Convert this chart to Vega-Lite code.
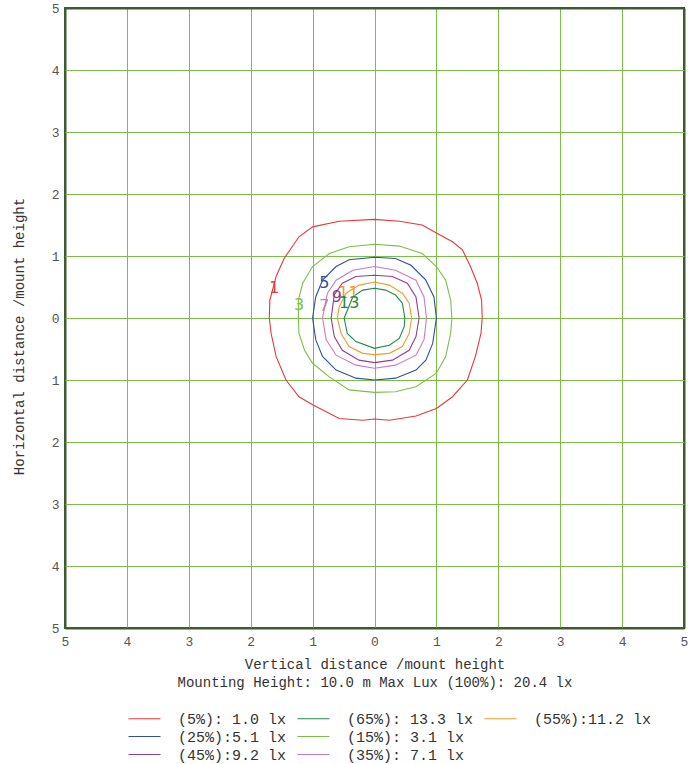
{
  "$schema": "https://vega.github.io/schema/vega-lite/v6.json",
  "autosize": {"type": "none"},
  "width": 619,
  "height": 620,
  "padding": {"left": 65, "top": 8, "right": 10, "bottom": 136},
  "background": "white",
  "config": {
    "view": {"stroke": "#3f5a30", "strokeWidth": 2},
    "axis": {"labelFont": "Liberation Mono", "titleFont": "Liberation Mono", "labelColor": "#555555", "titleColor": "#333333", "titleFontWeight": "normal", "labelFontSize": 13, "titleFontSize": 14}
  },
  "datasets": {
    "contours": [
      {"s": "(5%): 1.0 lx", "i": 0, "x": 0, "y": 1.59},
      {"s": "(5%): 1.0 lx", "i": 1, "x": 0.4, "y": 1.56},
      {"s": "(5%): 1.0 lx", "i": 2, "x": 0.77, "y": 1.5},
      {"s": "(5%): 1.0 lx", "i": 3, "x": 1.0, "y": 1.37},
      {"s": "(5%): 1.0 lx", "i": 4, "x": 1.26, "y": 1.23},
      {"s": "(5%): 1.0 lx", "i": 5, "x": 1.42, "y": 1.1},
      {"s": "(5%): 1.0 lx", "i": 6, "x": 1.55, "y": 0.83},
      {"s": "(5%): 1.0 lx", "i": 7, "x": 1.66, "y": 0.56},
      {"s": "(5%): 1.0 lx", "i": 8, "x": 1.73, "y": 0.29},
      {"s": "(5%): 1.0 lx", "i": 9, "x": 1.74, "y": 0},
      {"s": "(5%): 1.0 lx", "i": 10, "x": 1.72, "y": -0.25},
      {"s": "(5%): 1.0 lx", "i": 11, "x": 1.63, "y": -0.62},
      {"s": "(5%): 1.0 lx", "i": 12, "x": 1.5, "y": -1.0},
      {"s": "(5%): 1.0 lx", "i": 13, "x": 1.26, "y": -1.27},
      {"s": "(5%): 1.0 lx", "i": 14, "x": 1.0, "y": -1.46},
      {"s": "(5%): 1.0 lx", "i": 15, "x": 0.67, "y": -1.58},
      {"s": "(5%): 1.0 lx", "i": 16, "x": 0.24, "y": -1.65},
      {"s": "(5%): 1.0 lx", "i": 17, "x": 0, "y": -1.63},
      {"s": "(5%): 1.0 lx", "i": 18, "x": -0.19, "y": -1.65},
      {"s": "(5%): 1.0 lx", "i": 19, "x": -0.57, "y": -1.62},
      {"s": "(5%): 1.0 lx", "i": 20, "x": -1.0, "y": -1.4},
      {"s": "(5%): 1.0 lx", "i": 21, "x": -1.22, "y": -1.27},
      {"s": "(5%): 1.0 lx", "i": 22, "x": -1.43, "y": -1.0},
      {"s": "(5%): 1.0 lx", "i": 23, "x": -1.59, "y": -0.62},
      {"s": "(5%): 1.0 lx", "i": 24, "x": -1.67, "y": -0.25},
      {"s": "(5%): 1.0 lx", "i": 25, "x": -1.7, "y": 0},
      {"s": "(5%): 1.0 lx", "i": 26, "x": -1.69, "y": 0.29},
      {"s": "(5%): 1.0 lx", "i": 27, "x": -1.59, "y": 0.67},
      {"s": "(5%): 1.0 lx", "i": 28, "x": -1.46, "y": 0.96},
      {"s": "(5%): 1.0 lx", "i": 29, "x": -1.22, "y": 1.31},
      {"s": "(5%): 1.0 lx", "i": 30, "x": -1.0, "y": 1.47},
      {"s": "(5%): 1.0 lx", "i": 31, "x": -0.57, "y": 1.56},
      {"s": "(5%): 1.0 lx", "i": 32, "x": 0, "y": 1.59},

      {"s": "(15%): 3.1 lx", "i": 0, "x": 0, "y": 1.19},
      {"s": "(15%): 3.1 lx", "i": 1, "x": 0.4, "y": 1.16},
      {"s": "(15%): 3.1 lx", "i": 2, "x": 0.77, "y": 1.04},
      {"s": "(15%): 3.1 lx", "i": 3, "x": 1.0, "y": 0.83},
      {"s": "(15%): 3.1 lx", "i": 4, "x": 1.15, "y": 0.61},
      {"s": "(15%): 3.1 lx", "i": 5, "x": 1.23, "y": 0.29},
      {"s": "(15%): 3.1 lx", "i": 6, "x": 1.25, "y": 0},
      {"s": "(15%): 3.1 lx", "i": 7, "x": 1.23, "y": -0.25},
      {"s": "(15%): 3.1 lx", "i": 8, "x": 1.15, "y": -0.62},
      {"s": "(15%): 3.1 lx", "i": 9, "x": 1.0, "y": -0.89},
      {"s": "(15%): 3.1 lx", "i": 10, "x": 0.67, "y": -1.11},
      {"s": "(15%): 3.1 lx", "i": 11, "x": 0.34, "y": -1.19},
      {"s": "(15%): 3.1 lx", "i": 12, "x": 0, "y": -1.2},
      {"s": "(15%): 3.1 lx", "i": 13, "x": -0.41, "y": -1.16},
      {"s": "(15%): 3.1 lx", "i": 14, "x": -0.73, "y": -0.95},
      {"s": "(15%): 3.1 lx", "i": 15, "x": -1.0, "y": -0.73},
      {"s": "(15%): 3.1 lx", "i": 16, "x": -1.13, "y": -0.52},
      {"s": "(15%): 3.1 lx", "i": 17, "x": -1.22, "y": -0.25},
      {"s": "(15%): 3.1 lx", "i": 18, "x": -1.23, "y": 0},
      {"s": "(15%): 3.1 lx", "i": 19, "x": -1.23, "y": 0.29},
      {"s": "(15%): 3.1 lx", "i": 20, "x": -1.16, "y": 0.56},
      {"s": "(15%): 3.1 lx", "i": 21, "x": -1.0, "y": 0.83},
      {"s": "(15%): 3.1 lx", "i": 22, "x": -0.73, "y": 1.04},
      {"s": "(15%): 3.1 lx", "i": 23, "x": -0.41, "y": 1.15},
      {"s": "(15%): 3.1 lx", "i": 24, "x": 0, "y": 1.19},

      {"s": "(25%):5.1 lx", "i": 0, "x": 0, "y": 0.98},
      {"s": "(25%):5.1 lx", "i": 1, "x": 0.34, "y": 0.96},
      {"s": "(25%):5.1 lx", "i": 2, "x": 0.59, "y": 0.85},
      {"s": "(25%):5.1 lx", "i": 3, "x": 0.83, "y": 0.61},
      {"s": "(25%):5.1 lx", "i": 4, "x": 0.96, "y": 0.34},
      {"s": "(25%):5.1 lx", "i": 5, "x": 1.0, "y": 0},
      {"s": "(25%):5.1 lx", "i": 6, "x": 0.94, "y": -0.41},
      {"s": "(25%):5.1 lx", "i": 7, "x": 0.83, "y": -0.68},
      {"s": "(25%):5.1 lx", "i": 8, "x": 0.67, "y": -0.84},
      {"s": "(25%):5.1 lx", "i": 9, "x": 0.34, "y": -0.97},
      {"s": "(25%):5.1 lx", "i": 10, "x": 0, "y": -1.0},
      {"s": "(25%):5.1 lx", "i": 11, "x": -0.3, "y": -0.97},
      {"s": "(25%):5.1 lx", "i": 12, "x": -0.62, "y": -0.84},
      {"s": "(25%):5.1 lx", "i": 13, "x": -0.84, "y": -0.62},
      {"s": "(25%):5.1 lx", "i": 14, "x": -0.95, "y": -0.35},
      {"s": "(25%):5.1 lx", "i": 15, "x": -1.0, "y": 0},
      {"s": "(25%):5.1 lx", "i": 16, "x": -0.95, "y": 0.34},
      {"s": "(25%):5.1 lx", "i": 17, "x": -0.84, "y": 0.61},
      {"s": "(25%):5.1 lx", "i": 18, "x": -0.62, "y": 0.83},
      {"s": "(25%):5.1 lx", "i": 19, "x": -0.41, "y": 0.94},
      {"s": "(25%):5.1 lx", "i": 20, "x": 0, "y": 0.98},

      {"s": "(35%): 7.1 lx", "i": 0, "x": 0, "y": 0.83},
      {"s": "(35%): 7.1 lx", "i": 1, "x": 0.34, "y": 0.77},
      {"s": "(35%): 7.1 lx", "i": 2, "x": 0.67, "y": 0.61},
      {"s": "(35%): 7.1 lx", "i": 3, "x": 0.8, "y": 0.34},
      {"s": "(35%): 7.1 lx", "i": 4, "x": 0.84, "y": 0},
      {"s": "(35%): 7.1 lx", "i": 5, "x": 0.8, "y": -0.35},
      {"s": "(35%): 7.1 lx", "i": 6, "x": 0.67, "y": -0.6},
      {"s": "(35%): 7.1 lx", "i": 7, "x": 0.34, "y": -0.76},
      {"s": "(35%): 7.1 lx", "i": 8, "x": 0, "y": -0.81},
      {"s": "(35%): 7.1 lx", "i": 9, "x": -0.3, "y": -0.76},
      {"s": "(35%): 7.1 lx", "i": 10, "x": -0.62, "y": -0.6},
      {"s": "(35%): 7.1 lx", "i": 11, "x": -0.78, "y": -0.35},
      {"s": "(35%): 7.1 lx", "i": 12, "x": -0.84, "y": 0},
      {"s": "(35%): 7.1 lx", "i": 13, "x": -0.76, "y": 0.4},
      {"s": "(35%): 7.1 lx", "i": 14, "x": -0.62, "y": 0.61},
      {"s": "(35%): 7.1 lx", "i": 15, "x": -0.35, "y": 0.77},
      {"s": "(35%): 7.1 lx", "i": 16, "x": 0, "y": 0.83},

      {"s": "(45%):9.2 lx", "i": 0, "x": 0, "y": 0.69},
      {"s": "(45%):9.2 lx", "i": 1, "x": 0.29, "y": 0.67},
      {"s": "(45%):9.2 lx", "i": 2, "x": 0.53, "y": 0.56},
      {"s": "(45%):9.2 lx", "i": 3, "x": 0.67, "y": 0.34},
      {"s": "(45%):9.2 lx", "i": 4, "x": 0.72, "y": 0},
      {"s": "(45%):9.2 lx", "i": 5, "x": 0.67, "y": -0.3},
      {"s": "(45%):9.2 lx", "i": 6, "x": 0.56, "y": -0.52},
      {"s": "(45%):9.2 lx", "i": 7, "x": 0.29, "y": -0.68},
      {"s": "(45%):9.2 lx", "i": 8, "x": 0, "y": -0.72},
      {"s": "(45%):9.2 lx", "i": 9, "x": -0.25, "y": -0.68},
      {"s": "(45%):9.2 lx", "i": 10, "x": -0.52, "y": -0.52},
      {"s": "(45%):9.2 lx", "i": 11, "x": -0.65, "y": -0.3},
      {"s": "(45%):9.2 lx", "i": 12, "x": -0.7, "y": 0},
      {"s": "(45%):9.2 lx", "i": 13, "x": -0.65, "y": 0.37},
      {"s": "(45%):9.2 lx", "i": 14, "x": -0.52, "y": 0.56},
      {"s": "(45%):9.2 lx", "i": 15, "x": -0.3, "y": 0.67},
      {"s": "(45%):9.2 lx", "i": 16, "x": 0, "y": 0.69},

      {"s": "(55%):11.2 lx", "i": 0, "x": 0, "y": 0.58},
      {"s": "(55%):11.2 lx", "i": 1, "x": 0.24, "y": 0.53},
      {"s": "(55%):11.2 lx", "i": 2, "x": 0.45, "y": 0.4},
      {"s": "(55%):11.2 lx", "i": 3, "x": 0.56, "y": 0.24},
      {"s": "(55%):11.2 lx", "i": 4, "x": 0.6, "y": 0},
      {"s": "(55%):11.2 lx", "i": 5, "x": 0.56, "y": -0.25},
      {"s": "(55%):11.2 lx", "i": 6, "x": 0.45, "y": -0.46},
      {"s": "(55%):11.2 lx", "i": 7, "x": 0.24, "y": -0.57},
      {"s": "(55%):11.2 lx", "i": 8, "x": 0, "y": -0.59},
      {"s": "(55%):11.2 lx", "i": 9, "x": -0.19, "y": -0.57},
      {"s": "(55%):11.2 lx", "i": 10, "x": -0.41, "y": -0.46},
      {"s": "(55%):11.2 lx", "i": 11, "x": -0.54, "y": -0.25},
      {"s": "(55%):11.2 lx", "i": 12, "x": -0.6, "y": 0},
      {"s": "(55%):11.2 lx", "i": 13, "x": -0.57, "y": 0.18},
      {"s": "(55%):11.2 lx", "i": 14, "x": -0.46, "y": 0.4},
      {"s": "(55%):11.2 lx", "i": 15, "x": -0.25, "y": 0.53},
      {"s": "(55%):11.2 lx", "i": 16, "x": 0, "y": 0.58},

      {"s": "(65%): 13.3 lx", "i": 0, "x": 0, "y": 0.48},
      {"s": "(65%): 13.3 lx", "i": 1, "x": 0.18, "y": 0.45},
      {"s": "(65%): 13.3 lx", "i": 2, "x": 0.34, "y": 0.37},
      {"s": "(65%): 13.3 lx", "i": 3, "x": 0.45, "y": 0.24},
      {"s": "(65%): 13.3 lx", "i": 4, "x": 0.49, "y": 0},
      {"s": "(65%): 13.3 lx", "i": 5, "x": 0.48, "y": -0.14},
      {"s": "(65%): 13.3 lx", "i": 6, "x": 0.4, "y": -0.33},
      {"s": "(65%): 13.3 lx", "i": 7, "x": 0.24, "y": -0.44},
      {"s": "(65%): 13.3 lx", "i": 8, "x": 0, "y": -0.49},
      {"s": "(65%): 13.3 lx", "i": 9, "x": -0.3, "y": -0.38},
      {"s": "(65%): 13.3 lx", "i": 10, "x": -0.44, "y": -0.25},
      {"s": "(65%): 13.3 lx", "i": 11, "x": -0.49, "y": 0},
      {"s": "(65%): 13.3 lx", "i": 12, "x": -0.35, "y": 0.34},
      {"s": "(65%): 13.3 lx", "i": 13, "x": -0.19, "y": 0.45},
      {"s": "(65%): 13.3 lx", "i": 14, "x": 0, "y": 0.48}
    ],
    "labels": [
      {"s": "(5%): 1.0 lx", "t": "1", "x": -1.62, "y": 0.49},
      {"s": "(15%): 3.1 lx", "t": "3", "x": -1.22, "y": 0.21},
      {"s": "(25%):5.1 lx", "t": "5", "x": -0.81, "y": 0.56},
      {"s": "(35%): 7.1 lx", "t": "7", "x": -0.81, "y": 0.19},
      {"s": "(45%):9.2 lx", "t": "9", "x": -0.61, "y": 0.34},
      {"s": "(55%):11.2 lx", "t": "11", "x": -0.42, "y": 0.41},
      {"s": "(65%): 13.3 lx", "t": "13", "x": -0.41, "y": 0.24}
    ]
  },
  "encoding": {
    "x": {
      "field": "x", "type": "quantitative",
      "scale": {"domain": [-5, 5], "nice": false, "zero": false},
      "axis": {
        "values": [-5, -4, -3, -2, -1, 0, 1, 2, 3, 4, 5],
        "labelExpr": "format(abs(datum.value), 'd')",
        "ticks": false, "domain": false,
        "grid": true,
        "gridColor": {"condition": {"test": "abs(datum.value) == 5", "value": "#3f5a30"}, "value": "#7dbd4a"},
        "gridWidth": {"condition": {"test": "abs(datum.value) == 5", "value": 2}, "value": 1},
        "gridOpacity": 1,
        "labelPadding": 7, "labelFlush": false, "labelOverlap": false,
        "title": ["Vertical distance /mount height", "Mounting Height: 10.0 m Max Lux (100%): 20.4 lx"],
        "titleLineHeight": 18.5, "titlePadding": 9
      }
    },
    "y": {
      "field": "y", "type": "quantitative",
      "scale": {"domain": [-5, 5], "nice": false, "zero": false},
      "axis": {
        "values": [-5, -4, -3, -2, -1, 0, 1, 2, 3, 4, 5],
        "labelExpr": "format(abs(datum.value), 'd')",
        "ticks": false, "domain": false,
        "grid": true,
        "gridColor": {"condition": {"test": "abs(datum.value) == 5", "value": "#3f5a30"}, "value": "#7dbd4a"},
        "gridWidth": {"condition": {"test": "abs(datum.value) == 5", "value": 2}, "value": 1},
        "gridOpacity": 1,
        "labelPadding": 6, "labelFlush": false, "labelOverlap": false,
        "title": "Horizontal distance /mount height",
        "titleY": 328, "titleX": -39
      }
    },
    "color": {
      "field": "s", "type": "nominal",
      "scale": {
        "domain": ["(5%): 1.0 lx", "(65%): 13.3 lx", "(55%):11.2 lx", "(25%):5.1 lx", "(15%): 3.1 lx", " ", "(45%):9.2 lx", "(35%): 7.1 lx"],
        "range": ["#e8383a", "#1e8a45", "#f39a2e", "#2e4fa3", "#7dbf45", "rgba(255,255,255,0)", "#8e3f98", "#cc7ac0"]
      },
      "legend": {
        "title": null, "orient": "none", "legendX": 63, "legendY": 703,
        "direction": "horizontal", "columns": 3, "symbolType": "stroke",
        "symbolSize": 1024, "symbolStrokeWidth": 1, "labelOffset": 17,
        "labelFont": "Liberation Mono", "labelFontSize": 15, "labelColor": "#333333",
        "columnPadding": 10, "rowPadding": 2, "clipHeight": 15, "labelLimit": 0, "gridAlign": "each"
      }
    }
  },
  "layer": [
    {
      "data": {"name": "contours"},
      "mark": {"type": "line", "strokeWidth": 1.1, "interpolate": "linear"},
      "encoding": {"order": {"field": "i", "type": "quantitative"}}
    },
    {
      "data": {"name": "labels"},
      "mark": {"type": "text", "font": "DejaVu Sans", "fontSize": 16, "align": "center", "baseline": "middle"},
      "encoding": {"text": {"field": "t"}}
    }
  ]
}
